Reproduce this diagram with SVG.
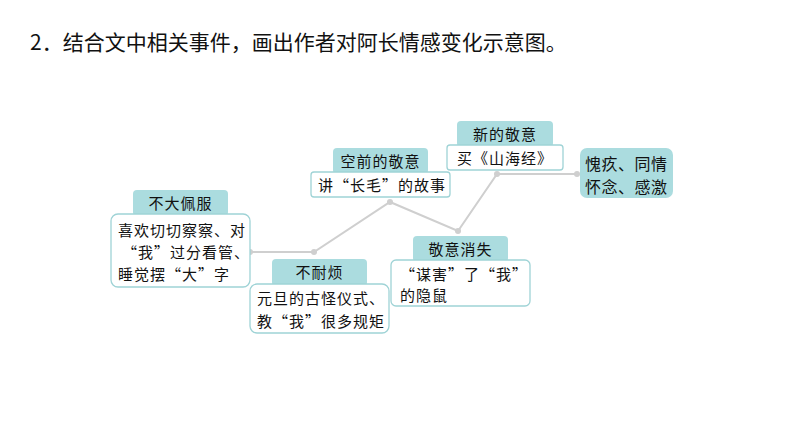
<svg xmlns="http://www.w3.org/2000/svg" width="794" height="447" viewBox="0 0 794 447">
<style>
text{font-family:"Noto Sans CJK SC","Noto Sans",sans-serif;fill:#111}
.h{fill:#abdcdf;stroke:none}
.b{fill:#fff;stroke:#9fd3d6;stroke-width:1.3}
.t{font-size:15px;letter-spacing:1px}
.ht{font-size:15px;text-anchor:middle;letter-spacing:1px}
.ln{fill:none;stroke:#cfcfcf;stroke-width:2}
.dot{fill:#cfcfcf}
</style>
<rect width="794" height="447" fill="#fff"/>
<text x="30" y="50" style="font-size:21px">2．结合文中相关事件，画出作者对阿长情感变化示意图。</text>
<g id="connectors">
<polyline class="ln" points="250,252 314,252 390,202 458,231 497,174 577,174"/>
<circle class="dot" cx="250" cy="252" r="3"/><circle class="dot" cx="314" cy="252" r="3"/><circle class="dot" cx="390" cy="202" r="3"/><circle class="dot" cx="458" cy="231" r="3"/><circle class="dot" cx="497" cy="174" r="3"/><circle class="dot" cx="577" cy="174" r="3"/>
</g>
<g id="n1">
<rect class="h" x="133" y="190" width="95" height="26" rx="4"/>
<text class="ht" x="180.5" y="209">不大佩服</text>
<rect class="b" x="111" y="214" width="139" height="73" rx="7"/>
<text class="t" x="118" y="236">喜欢切切察察、对</text>
<text class="t" x="122" y="258">“我”过分看管、</text>
<text class="t" x="118" y="280">睡觉摆“大”字</text>
</g>
<g id="n2">
<rect class="h" x="272" y="259" width="95" height="27" rx="4"/>
<text class="ht" x="319.5" y="278">不耐烦</text>
<rect class="b" x="250" y="284" width="139" height="49" rx="7"/>
<text class="t" x="257" y="304">元旦的古怪仪式、</text>
<text class="t" x="257" y="327">教“我”很多规矩</text>
</g>
<g id="n3">
<rect class="h" x="333" y="148" width="95" height="26" rx="4"/>
<text class="ht" x="380.5" y="167">空前的敬意</text>
<rect class="b" x="311" y="172" width="139" height="25" rx="3"/>
<text class="t" x="318" y="191">讲“长毛”的故事</text>
</g>
<g id="n4">
<rect class="h" x="457" y="121" width="96" height="26" rx="4"/>
<text class="ht" x="505" y="140">新的敬意</text>
<rect class="b" x="447" y="145" width="116" height="25" rx="3"/>
<text class="ht" x="505" y="164">买《山海经》</text>
</g>
<g id="n5">
<rect class="h" x="413" y="236" width="95" height="26" rx="4"/>
<text class="ht" x="460.5" y="255">敬意消失</text>
<rect class="b" x="391" y="260" width="139" height="46" rx="5"/>
<text class="t" x="400" y="280">“谋害”了“我”</text>
<text class="t" x="400" y="301">的隐鼠</text>
</g>
<g id="n6">
<rect class="h" x="580" y="148" width="93" height="50" rx="7"/>
<text x="585" y="170" style="font-size:16px;letter-spacing:0.5px">愧疚、同情</text>
<text x="585" y="193" style="font-size:16px;letter-spacing:0.5px">怀念、感激</text>
</g>
</svg>
